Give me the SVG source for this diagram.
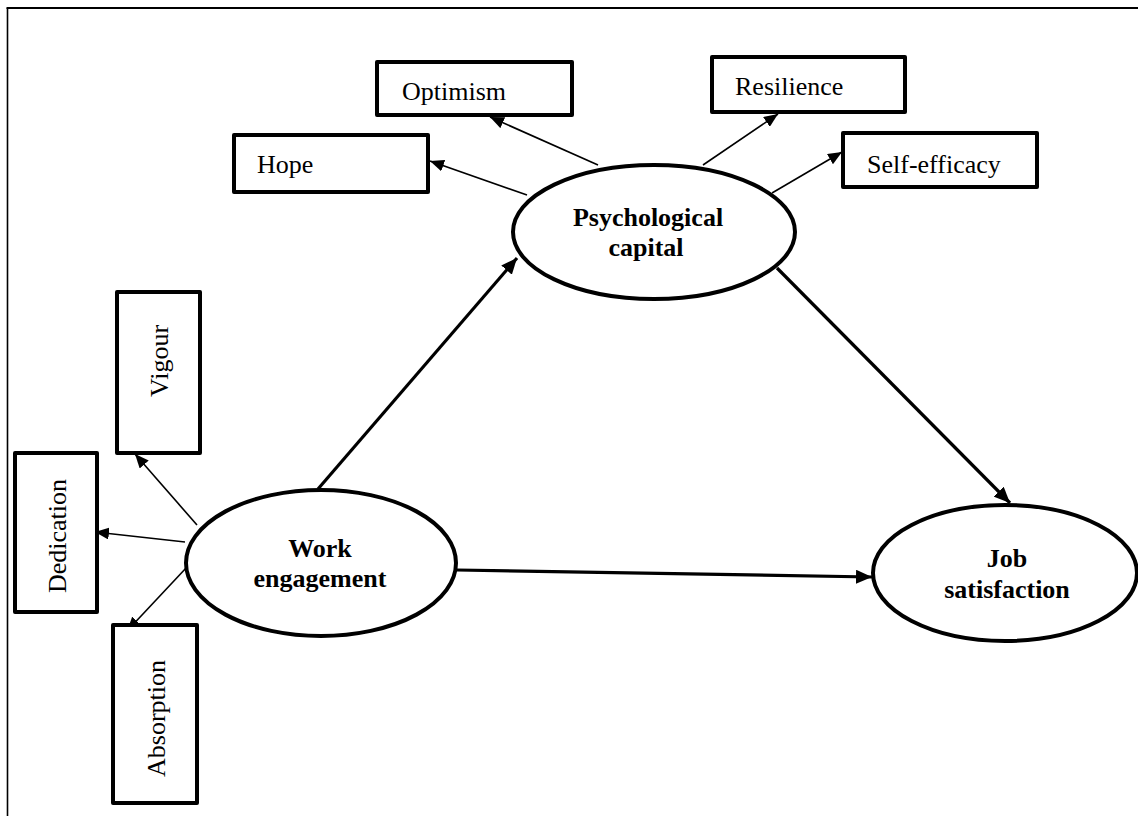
<svg xmlns="http://www.w3.org/2000/svg" width="1138" height="816" viewBox="0 0 1138 816">
<style>
.box{fill:#fff;stroke:#000;stroke-width:4;stroke-linejoin:round}
.ell{fill:#fff;stroke:#000;stroke-width:4}
.lbl{font-family:"Liberation Serif","Times New Roman",serif;font-size:26px;fill:#000}
.bold{font-family:"Liberation Serif","Times New Roman",serif;font-size:26px;font-weight:bold;fill:#000;text-anchor:middle}
.thin{stroke:#000;stroke-width:1.6;fill:none;marker-end:url(#ah)}
.thick{stroke:#000;stroke-width:3.2;fill:none;marker-end:url(#ahb)}
</style>
<defs>
<marker id="ah" markerUnits="userSpaceOnUse" markerWidth="14" markerHeight="12" refX="14" refY="6" orient="auto">
<path d="M0,0 L14,6 L0,12 z" fill="#000"/>
</marker>
<marker id="ahb" markerUnits="userSpaceOnUse" markerWidth="16" markerHeight="14" refX="16" refY="7" orient="auto">
<path d="M0,0 L16,7 L0,14 z" fill="#000"/>
</marker>
</defs>
<rect width="1138" height="816" fill="#fff"/>
<g id="frame">
<line x1="6.5" y1="8" x2="1138" y2="8" stroke="#000" stroke-width="2"/>
<line x1="7.5" y1="8" x2="7.5" y2="816" stroke="#000" stroke-width="1.6"/>
</g>
<g id="connectors">
<line class="thin" x1="527" y1="195" x2="430" y2="161"/>
<line class="thin" x1="598" y1="165" x2="490" y2="117"/>
<line class="thin" x1="703" y1="165" x2="778" y2="114"/>
<line class="thin" x1="772" y1="193" x2="842" y2="152"/>
<line class="thin" x1="197" y1="525" x2="135" y2="454"/>
<line class="thin" x1="185" y1="542" x2="95" y2="532"/>
<line class="thin" x1="187" y1="567" x2="127" y2="631"/>
<line class="thick" x1="318" y1="489" x2="517" y2="258"/>
<line class="thick" x1="777" y1="268" x2="1010" y2="503"/>
<line class="thick" x1="457" y1="570" x2="872" y2="577"/>
</g>
<g id="hope">
<rect class="box" x="234" y="135" width="194" height="57"/>
<text class="lbl" x="257" y="173">Hope</text>
</g>
<g id="optimism">
<rect class="box" x="377" y="62" width="195" height="53"/>
<text class="lbl" x="402" y="100">Optimism</text>
</g>
<g id="resilience">
<rect class="box" x="712" y="57" width="193" height="55"/>
<text class="lbl" x="735" y="95">Resilience</text>
</g>
<g id="self-efficacy">
<rect class="box" x="843" y="133" width="194" height="54"/>
<text class="lbl" x="867" y="173">Self-efficacy</text>
</g>
<g id="vigour">
<rect class="box" x="117" y="292" width="83" height="161"/>
<text class="lbl" transform="translate(168,397) rotate(-90)">Vigour</text>
</g>
<g id="dedication">
<rect class="box" x="15" y="453" width="82" height="159"/>
<text class="lbl" transform="translate(66,593) rotate(-90)">Dedication</text>
</g>
<g id="absorption">
<rect class="box" x="113" y="625" width="84" height="178"/>
<text class="lbl" transform="translate(165,777) rotate(-90)">Absorption</text>
</g>
<g id="psychological-capital">
<ellipse class="ell" cx="654" cy="232" rx="141" ry="67"/>
<text class="bold" x="648" y="226">Psychological</text>
<text class="bold" x="646" y="256">capital</text>
</g>
<g id="work-engagement">
<ellipse class="ell" cx="321" cy="563" rx="135" ry="73"/>
<text class="bold" x="320" y="557">Work</text>
<text class="bold" x="320" y="587">engagement</text>
</g>
<g id="job-satisfaction">
<ellipse class="ell" cx="1005" cy="573" rx="132" ry="68"/>
<text class="bold" x="1007" y="567">Job</text>
<text class="bold" x="1007" y="598">satisfaction</text>
</g>
</svg>
